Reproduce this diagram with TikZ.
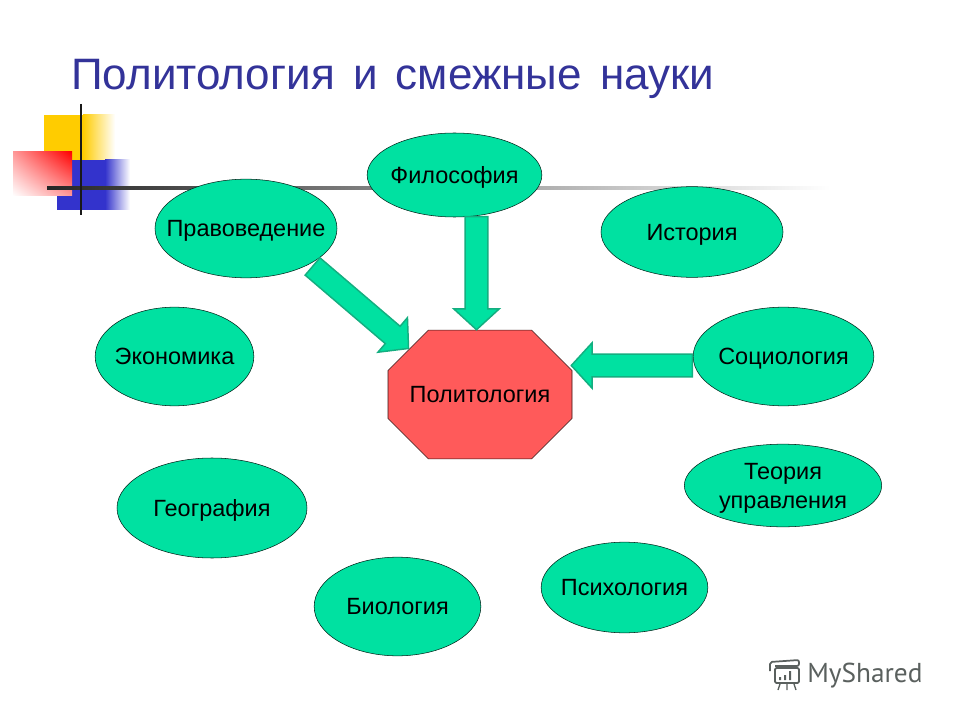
\documentclass[tikz,border=0pt]{standalone}
\usepackage{fontspec}
\setmainfont{Liberation Sans}
\newfontfamily\markfont{PT Sans}
\usetikzlibrary{calc,shadings,shapes.arrows,shapes.geometric,shapes.misc}
\definecolor{titleblue}{HTML}{333399}
\definecolor{bubble}{HTML}{00E1A1}
\definecolor{arrowedge}{HTML}{14AE80}
\definecolor{octred}{HTML}{FF5A5A}
\definecolor{logogrey}{HTML}{5A605E}
\definecolor{squareyellow}{HTML}{FFCC00}
\definecolor{squareblue}{HTML}{3333CC}
\tikzset{
	science/.style = {draw = black!85!bubble, fill = bubble, ellipse, inner sep = 0, align = center, text height = 12.6pt, text depth = 0pt, font = \fontsize{17.6}{22}\selectfont},
	core/.style = {draw = black!80!octred, fill = octred, chamfered rectangle, chamfered rectangle xsep = 24pt, chamfered rectangle ysep = 24pt, inner sep = 0, minimum width = 138pt, minimum height = 96.5pt, text height = 12.6pt, text depth = 0pt, font = \fontsize{17.6}{22}\selectfont},
	blockarrow/.style = {draw = arrowedge, line width = 1.1pt, fill = bubble, single arrow, single arrow head extend = 8.5pt, single arrow tip angle = 95, inner sep = 0, text height = 16pt, text depth = 0pt, anchor = tail},
}
\newcommand{\fixw}[1]{\makebox[0pt]{#1}}
\newcommand{\blockto}[3]{\path let \p1 = ($(#3)-(#2)$), \n1 = {atan2(\y1,\x1)}, \n2 = {veclen(\x1,\y1)} in node (#1) [blockarrow, minimum height = \n2, rotate = \n1] at (#2) {};}
\begin{document}
\begin{tikzpicture}[x = .75pt, y = -.75pt]
	\useasboundingbox (0,0) rectangle (960,720);
	\node (title) [anchor = base west, inner sep = 0, text = titleblue, font = \fontsize{33}{40}\selectfont] at (71,90) {Политология\hspace{4.5pt} и\hspace{4.5pt} смежные\hspace{4.5pt} науки};

	\shade [left color = squareyellow, right color = white] (83,115) rectangle (115,160);
	\fill [squareyellow] (44,115) rectangle (83,160);
	\fill [squareblue] (57,160) rectangle (105,210);
	\shade [left color = squareblue, right color = white] (105,160) rectangle (130,210);
	\shade [lower left = white, upper right = red, lower right = red!40!white, upper left = red!40!white] (13,152) rectangle (72,196);
	\shade [left color = black!85, right color = white] (47,186.8) rectangle (830,189.2);
	\draw [line width = 2pt, black!90] (81,104) -- (81,215);

	\node (filos) [science, minimum width = 131pt, minimum height = 63pt] at (454.5,175) {\fixw{Философия}};
	\node (pravo) [science, minimum width = 136.5pt, minimum height = 74pt] at (246,228.5) {\fixw{Правоведение}};
	\node (histo) [science, minimum width = 136.5pt, minimum height = 68pt] at (692,232) {\fixw{История}};
	\node (socio) [science, minimum width = 135.5pt, minimum height = 74pt] at (783.5,356.5) {\fixw{Социология}};
	\node (econo) [science, minimum width = 119pt, minimum height = 74pt] at (174.5,356.5) {\fixw{Экономика}};
	\node (geogr) [science, minimum width = 142.5pt, minimum height = 75pt] at (212,508) {\fixw{География}};
	\node (biolo) [science, minimum width = 125pt, minimum height = 74pt] at (397.5,606.5) {\fixw{Биология}};
	\node (psych) [science, minimum width = 125pt, minimum height = 68pt] at (624.5,587.5) {\fixw{Психология}};
	\node (theor) [science, text height = 34.6pt, minimum width = 148pt, minimum height = 62pt] at (783,485.5) {\fixw{Теория}\\\fixw{управления}};
	\node (polit) [core] at (480,394.5) {Политология};

	\coordinate (filostail) at (476.5,216);
	\coordinate (filostip) at (476.5,329);
	\coordinate (pravotail) at (312,266);
	\coordinate (pravotip) at (408,348);
	\coordinate (sociotail) at (693,365.5);
	\coordinate (sociotip) at (572,365.5);
	\blockto{filosarrow}{filostail}{filostip}
	\blockto{pravoarrow}{pravotail}{pravotip}
	\blockto{socioarrow}{sociotail}{sociotip}

	\node (mark) [anchor = base west, inner sep = 0, text = logogrey, font = \markfont\fontsize{20.5}{22}\selectfont] at (807,682) {MyShared};
	\draw [logogrey, line width = 1.3pt, rounded corners = 1pt] (775,668) rectangle (799,683);
	\draw [logogrey, line width = 1.3pt, rounded corners = 1.5pt] (770,671) -- (770,662) -- (799,660) -- (799,666) -- (775,666);
	\fill [logogrey] (779,677) rectangle (781,680) (784,675) rectangle (786,680) (789,671) rectangle (791,680);
	\draw [logogrey, line width = 1pt] (780,684) -- (778,690) (787,684) -- (787,690) (794,684) -- (796,690);
\end{tikzpicture}
\end{document}
